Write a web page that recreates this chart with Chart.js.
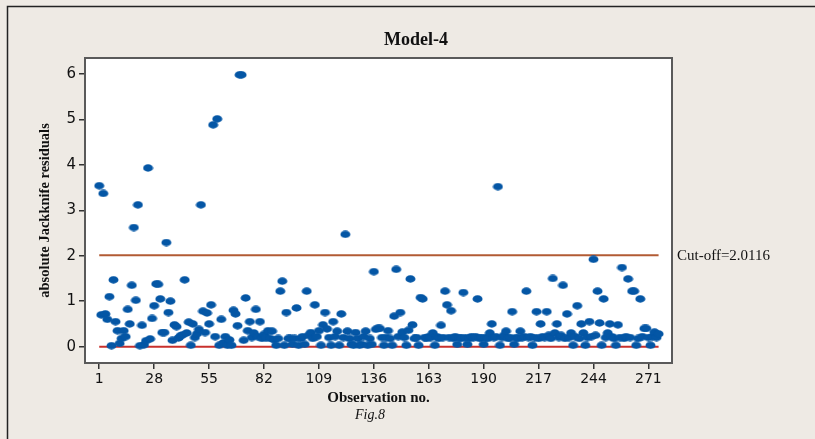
<!DOCTYPE html>
<html>
<head>
<meta charset="utf-8">
<script src="https://cdn.jsdelivr.net/npm/chart.js@4"></script>
<style>
  html, body { margin: 0; padding: 0; background: #eeeae4; }
  #wrap { width: 815px; height: 439px; position: relative; }
</style>
</head>
<body>
<div id="wrap"><canvas id="chart" width="815" height="439"></canvas></div>
<script>
// Data
const residuals = [
  3.54, 0.70, 3.37, 0.72, 0.60, 1.10, 0.02, 1.47, 0.55, 0.35,
  0.07, 0.18, 0.35, 0.22, 0.82, 0.50, 1.35, 2.62, 1.02, 3.12,
  0.02, 0.47, 0.04, 0.13, 3.93, 0.17, 0.62, 0.90, 1.38, 1.37,
  1.05, 0.31, 0.31, 2.29, 0.75, 1.00, 0.14, 0.48, 0.44, 0.19,
  0.24, 0.26, 1.47, 0.30, 0.54, 0.03, 0.50, 0.20, 0.28, 0.38,
  3.12, 0.78, 0.31, 0.74, 0.50, 0.92, 4.88, 0.22, 5.01, 0.03,
  0.60, 0.08, 0.22, 0.03, 0.15, 0.03, 0.80, 0.72, 0.46, 5.98,
  5.98, 0.14, 1.07, 0.35, 0.55, 0.20, 0.30, 0.82, 0.22, 0.55,
  0.18, 0.27, 0.20, 0.35, 0.18, 0.34, 0.15, 0.03, 0.18, 1.22,
  1.44, 0.03, 0.75, 0.18, 0.18, 0.05, 0.18, 0.85, 0.03, 0.18,
  0.22, 0.05, 1.22, 0.25, 0.31, 0.18, 0.92, 0.22, 0.35, 0.03,
  0.48, 0.75, 0.39, 0.20, 0.03, 0.55, 0.22, 0.34, 0.03, 0.72,
  0.20, 2.47, 0.34, 0.18, 0.05, 0.03, 0.31, 0.18, 0.03, 0.05,
  0.22, 0.34, 0.03, 0.18, 0.05, 1.65, 0.38, 0.40, 0.40, 0.20,
  0.03, 0.20, 0.35, 0.18, 0.03, 0.67, 1.70, 0.22, 0.75, 0.32,
  0.20, 0.03, 0.36, 1.49, 0.48, 0.18, 0.20, 0.03, 1.08, 1.05,
  0.20, 0.18, 0.22, 0.20, 0.30, 0.03, 0.22, 0.18, 0.47, 0.20,
  1.22, 0.92, 0.20, 0.79, 0.18, 0.22, 0.05, 0.20, 0.18, 1.19,
  0.20, 0.05, 0.18, 0.22, 0.20, 0.22, 1.05, 0.18, 0.20, 0.05,
  0.20, 0.18, 0.30, 0.50, 0.20, 0.22, 3.52, 0.03, 0.20, 0.25,
  0.34, 0.18, 0.20, 0.77, 0.05, 0.20, 0.18, 0.34, 0.20, 0.22,
  1.22, 0.20, 0.22, 0.03, 0.20, 0.77, 0.18, 0.50, 0.22, 0.20,
  0.77, 0.25, 0.18, 1.50, 0.30, 0.50, 0.20, 0.25, 1.35, 0.18,
  0.72, 0.20, 0.30, 0.03, 0.22, 0.90, 0.18, 0.50, 0.30, 0.03,
  0.20, 0.55, 0.22, 1.92, 0.25, 1.22, 0.52, 0.03, 1.05, 0.20,
  0.30, 0.50, 0.22, 0.18, 0.03, 0.48, 0.20, 1.74, 0.18, 0.22,
  1.49, 0.20, 1.22, 1.22, 0.03, 0.18, 1.05, 0.22, 0.40, 0.40,
  0.20, 0.03, 0.22, 0.32, 0.20, 0.28,
];
const observations = residuals.map((_, i) => i + 1);
const xTicks = [1, 28, 55, 82, 109, 136, 163, 190, 217, 244, 271];
const yTicks = [0, 1, 2, 3, 4, 5, 6];
const cutOff = 2.0116;

// Ellipse marker like the original dots
function makeDot() {
  const c = document.createElement("canvas");
  c.width = 11; c.height = 8;
  const g = c.getContext("2d");
  g.fillStyle = "#0456a5";
  g.beginPath();
  g.ellipse(5.5, 4, 5, 3.7, 0, 0, Math.PI * 2);
  g.fill();
  return c;
}
const dot = makeDot();

const first = observations[0];
const last = observations[observations.length - 1];

// Background, frame and free text
const decor = {
  id: "decor",
  beforeDraw(chart) {
    const { ctx, chartArea: a } = chart;
    ctx.save();
    ctx.fillStyle = "#eeeae4";
    ctx.fillRect(0, 0, chart.width, chart.height);
    ctx.strokeStyle = "#222";
    ctx.lineWidth = 1.5;
    ctx.beginPath();
    ctx.moveTo(7.5, chart.height); ctx.lineTo(7.5, 6.5); ctx.lineTo(chart.width, 6.5);
    ctx.stroke();
    ctx.fillStyle = "#ffffff";
    ctx.fillRect(a.left, a.top, a.right - a.left, a.bottom - a.top);
    ctx.restore();
  },
  afterDraw(chart) {
    const { ctx, chartArea: a, scales } = chart;
    ctx.save();
    ctx.strokeStyle = "#5a5a5a";
    ctx.lineWidth = 2;
    ctx.strokeRect(a.left, a.top, a.right - a.left, a.bottom - a.top);

    ctx.fillStyle = "#111";
    ctx.textAlign = "center";
    ctx.textBaseline = "middle";
    ctx.font = "bold 18px 'Liberation Serif'";
    ctx.fillText("Model-4", 416, 40);
    ctx.font = "bold 15px 'Liberation Serif'";
    ctx.fillText("Observation no.", (a.left + a.right) / 2, 398);
    ctx.font = "italic 14px 'Liberation Serif'";
    ctx.fillText("Fig.8", 370, 415);

    ctx.font = "15px 'Liberation Serif'";
    ctx.textAlign = "left";
    ctx.fillText("Cut-off=2.0116", a.right + 5, scales.y.getPixelForValue(cutOff) + 1);

    ctx.translate(45, (a.top + a.bottom) / 2);
    ctx.rotate(-Math.PI / 2);
    ctx.textAlign = "center";
    ctx.font = "bold 14.5px 'Liberation Serif'";
    ctx.fillText("absolute Jackknife residuals", 0, 0);
    ctx.restore();
  },
};

new Chart(document.getElementById("chart"), {
  type: "scatter",
  data: {
    datasets: [
      {
        label: "Residuals",
        data: observations.map((o, i) => ({ x: o, y: residuals[i] })),
        pointStyle: dot,
        order: 0,
      },
      {
        type: "line",
        label: "Cut-off",
        data: [{ x: first, y: cutOff }, { x: last, y: cutOff }],
        borderColor: "#b25b34",
        borderWidth: 2,
        pointRadius: 0,
        order: 1,
      },
      {
        type: "line",
        label: "Zero",
        data: [{ x: first, y: 0 }, { x: last, y: 0 }],
        borderColor: "#c8302c",
        borderWidth: 2,
        pointRadius: 0,
        order: 2,
      },
    ],
  },
  options: {
    responsive: false,
    animation: false,
    layout: { padding: { left: 0, right: 143, top: 58, bottom: 0 } },
    plugins: { legend: { display: false }, tooltip: { enabled: false } },
    scales: {
      x: {
        type: "linear",
        min: -6,
        max: 282.6,
        afterBuildTicks: (s) => { s.ticks = xTicks.map((v) => ({ value: v })); },
        afterFit: (s) => { s.height = 76; },
        grid: { drawOnChartArea: false, drawTicks: true, tickLength: 6, color: "#333", lineWidth: 1.5 },
        border: { display: false },
        ticks: { color: "#111", padding: 2, maxRotation: 0, autoSkip: false, font: { family: "DejaVu Sans", size: 14 } },
      },
      y: {
        min: -0.36,
        max: 6.35,
        afterBuildTicks: (s) => { s.ticks = yTicks.map((v) => ({ value: v })); },
        afterFit: (s) => { s.width = 85; },
        grid: { drawOnChartArea: false, drawTicks: true, tickLength: 6, color: "#333", lineWidth: 1.5 },
        border: { display: false },
        ticks: { color: "#111", padding: 3, font: { family: "DejaVu Sans", size: 15 } },
      },
    },
  },
  plugins: [decor],
});
</script>
</body>
</html>
